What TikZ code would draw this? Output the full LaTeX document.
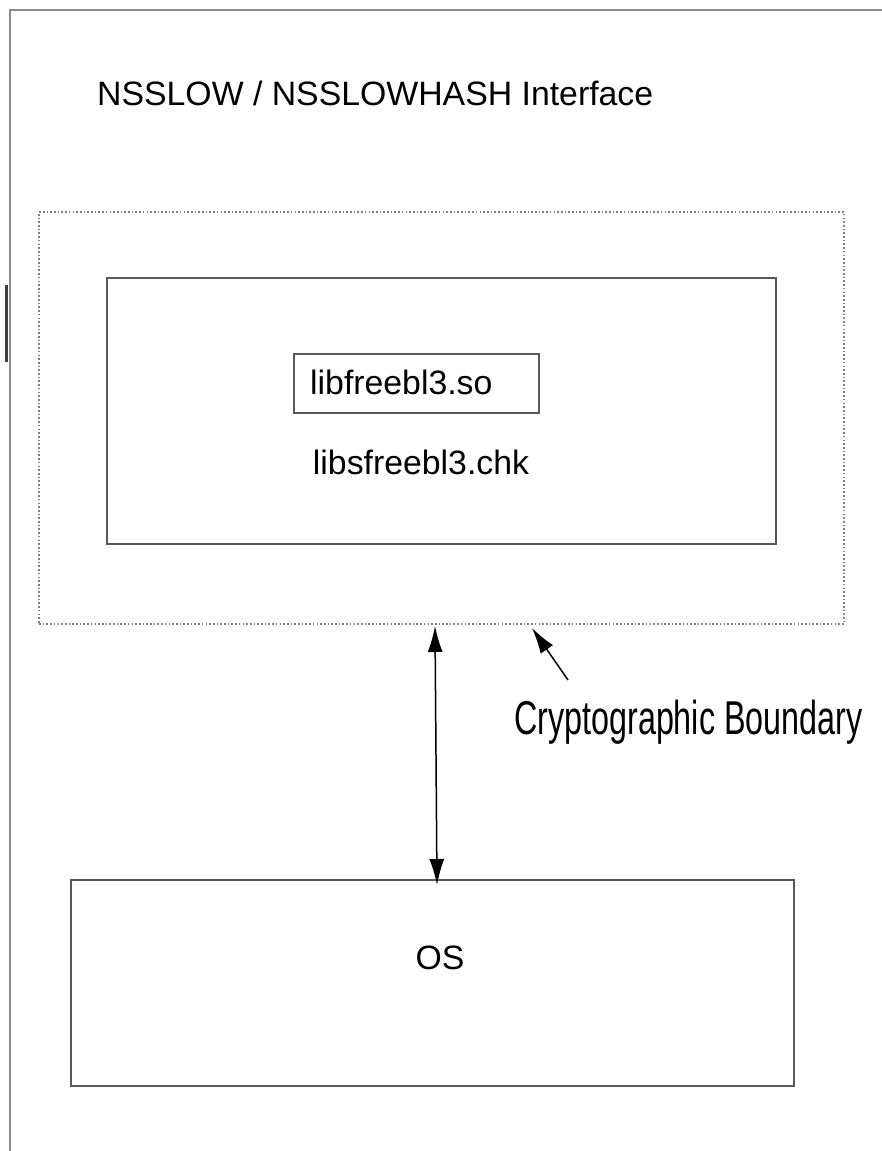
\documentclass[tikz,border=0pt]{standalone}
\usepackage{fontspec}
\setmainfont{Liberation Sans}
\newfontfamily\narrowfont[FakeStretch=0.68]{Liberation Sans}
\usetikzlibrary{arrows.meta,positioning}
\tikzset{
  frameline/.style={draw=gray!90, line width=1.6pt},
  boxline/.style={draw=black!65, line width=1.6pt},
  dotline/.style={draw=gray, line width=1.4pt, dash pattern=on 1.6pt off 2.1pt},
  lbl/.style={font=\fontsize{33.8}{40}\selectfont, inner sep=0pt},
  arr/.style={line width=1.5pt, -{Latex[length=26pt,width=15pt]}},
  darr/.style={line width=1.5pt, {Latex[length=26pt,width=15pt]}-{Latex[length=26pt,width=15pt]}},
}
\begin{document}
\begin{tikzpicture}[x=1pt,y=-1pt]
\useasboundingbox (0,0) rectangle (882,1151);
\fill[white] (0,0) rectangle (882,1151);
% outer frame (top and left edges visible)
\coordinate (fr1) at (10,1151);
\coordinate (fr2) at (10,10);
\coordinate (fr3) at (882,10);
\draw[frameline] (fr1) -- (fr2) -- (fr3);
% small dark bar
\coordinate (bar1) at (6,285);
\coordinate (bar2) at (6,362);
\draw[black!75, line width=3pt] (bar1) -- (bar2);
% title
\node[lbl, anchor=west] (title) at (97,93) {NSSLOW / NSSLOWHASH Interface};
% cryptographic boundary (dotted)
\node[dotline, minimum width=805pt, minimum height=412pt, inner sep=0pt] (bnd) at (441.5,418) {};
% inner box
\node[boxline, minimum width=669pt, minimum height=266pt, inner sep=0pt] (inner) at (441.5,411) {};
% libfreebl3.so box
\node[boxline, minimum width=245pt, minimum height=59pt, inner sep=0pt] (so) at (416.5,383.5) {};
\node[lbl, anchor=west] (sotext) at (310,382) {libfreebl3.so};
% chk text
\node[lbl] (chk) at (421,462) {libsfreebl3.chk};
% OS box
\node[boxline, minimum width=723pt, minimum height=206pt, inner sep=0pt] (os) at (432.5,983) {};
\node[lbl] (ostext) at (440,958) {OS};
% double arrow between boundary and OS
\coordinate (a1) at (435,626);
\coordinate (a2) at (437,885);
\draw[darr] (a1) -- (a2);
% cryptographic boundary label and pointer
\node[inner sep=0pt, anchor=west, font=\narrowfont\fontsize{47.5}{50}\selectfont] (cb) at (514,722) {Cryptographic Boundary};
\coordinate (p1) at (568,680);
\coordinate (p2) at (532,628);
\draw[arr] (p1) -- (p2);
\end{tikzpicture}
\end{document}
